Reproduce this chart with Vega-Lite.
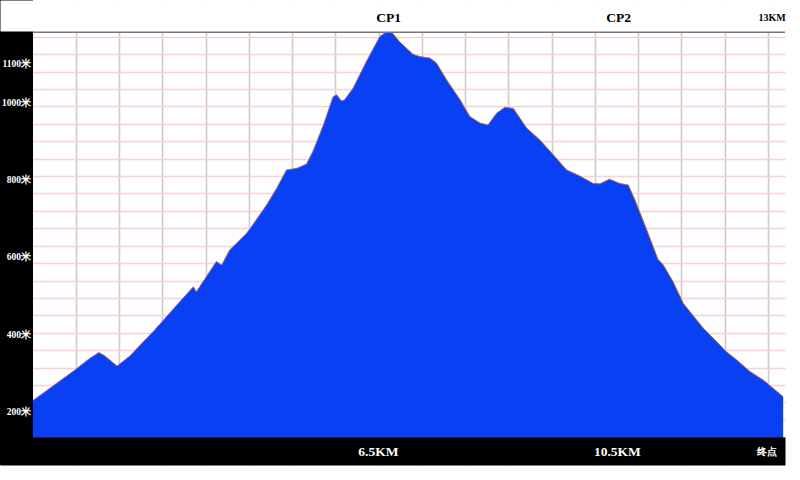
{
  "$schema": "https://vega.github.io/schema/vega-lite/v6.json",
  "width": 785,
  "height": 465,
  "autosize": {"type": "none"},
  "padding": {"left": 0, "top": 0, "right": 15, "bottom": 15},
  "background": "white",
  "config": {"view": {"stroke": null}},
  "datasets": {
    "profile": [
      {"km": 0.85, "ele": 230}, {"km": 1.51, "ele": 305}, {"km": 1.79, "ele": 339}, {"km": 1.94, "ele": 354},
      {"km": 2.04, "ele": 345}, {"km": 2.24, "ele": 319}, {"km": 2.45, "ele": 345}, {"km": 2.73, "ele": 391},
      {"km": 2.86, "ele": 412}, {"km": 3.28, "ele": 486}, {"km": 3.50, "ele": 524}, {"km": 3.55, "ele": 511},
      {"km": 3.88, "ele": 589}, {"km": 3.97, "ele": 580}, {"km": 4.10, "ele": 619}, {"km": 4.38, "ele": 662},
      {"km": 4.46, "ele": 679}, {"km": 4.71, "ele": 735}, {"km": 4.88, "ele": 779}, {"km": 5.04, "ele": 826},
      {"km": 5.21, "ele": 830}, {"km": 5.37, "ele": 841}, {"km": 5.48, "ele": 875}, {"km": 5.65, "ele": 942},
      {"km": 5.81, "ele": 1015}, {"km": 5.87, "ele": 1020}, {"km": 5.95, "ele": 1004}, {"km": 6.00, "ele": 1007},
      {"km": 6.14, "ele": 1037}, {"km": 6.36, "ele": 1106}, {"km": 6.58, "ele": 1170}, {"km": 6.69, "ele": 1183},
      {"km": 6.78, "ele": 1182}, {"km": 6.91, "ele": 1157}, {"km": 7.13, "ele": 1125}, {"km": 7.24, "ele": 1119},
      {"km": 7.41, "ele": 1115}, {"km": 7.52, "ele": 1102}, {"km": 7.69, "ele": 1058}, {"km": 7.91, "ele": 1007},
      {"km": 8.07, "ele": 964}, {"km": 8.24, "ele": 947}, {"km": 8.37, "ele": 942}, {"km": 8.51, "ele": 972},
      {"km": 8.65, "ele": 988}, {"km": 8.79, "ele": 985}, {"km": 9.01, "ele": 934}, {"km": 9.23, "ele": 903},
      {"km": 9.45, "ele": 865}, {"km": 9.67, "ele": 826}, {"km": 9.89, "ele": 810}, {"km": 10.11, "ele": 791},
      {"km": 10.22, "ele": 790}, {"km": 10.38, "ele": 802}, {"km": 10.55, "ele": 791}, {"km": 10.69, "ele": 787},
      {"km": 10.80, "ele": 748}, {"km": 10.93, "ele": 697}, {"km": 11.10, "ele": 628}, {"km": 11.18, "ele": 595},
      {"km": 11.27, "ele": 580}, {"km": 11.43, "ele": 537}, {"km": 11.60, "ele": 481}, {"km": 11.82, "ele": 438},
      {"km": 11.93, "ele": 417}, {"km": 12.15, "ele": 382}, {"km": 12.31, "ele": 356}, {"km": 12.48, "ele": 335},
      {"km": 12.70, "ele": 305}, {"km": 12.92, "ele": 283}, {"km": 13.08, "ele": 262}, {"km": 13.25, "ele": 240}
    ],
    "elevLabels": [
      {"ele": 200, "label": "200米"}, {"ele": 400, "label": "400米"}, {"ele": 600, "label": "600米"},
      {"ele": 800, "label": "800米"}, {"ele": 1000, "label": "1000米"}, {"ele": 1100, "label": "1100米"}
    ]
  },
  "data": {"name": "profile"},
  "resolve": {
    "scale": {"x": "shared", "y": "shared"},
    "axis": {"x": "independent", "y": "independent"}
  },
  "layer": [
    {
      "mark": {"type": "area", "color": "#0a40f4", "opacity": 1, "clip": true},
      "encoding": {
        "x": {
          "field": "km", "type": "quantitative",
          "scale": {"domain": [0.3045, 13.28], "nice": false, "zero": false},
          "axis": {
            "orient": "bottom", "title": null, "grid": true, "gridColor": "#cccccc", "gridWidth": 1.6, "gridOpacity": 1,
            "values": [1.558, 2.272, 2.988, 3.702, 4.417, 5.133, 5.847, 6.563, 7.277, 7.993, 8.708, 9.424, 10.138, 10.854, 11.568, 12.283, 12.997],
            "domain": false, "ticks": false, "labels": false, "zindex": 0
          }
        },
        "y": {
          "field": "ele", "type": "quantitative",
          "scale": {"domain": [63.3, 1265.1], "nice": false, "zero": false},
          "axis": {
            "orient": "left", "title": null, "grid": true, "gridColor": "#f3d3d3", "gridWidth": 1.3, "gridOpacity": 1,
            "values": [135, 180, 225, 270, 315, 360, 405, 450, 495, 540, 585, 630, 675, 720, 765, 810, 855, 900, 945, 990, 1035, 1080, 1125, 1170],
            "domain": false, "ticks": false, "labels": false, "zindex": 0
          }
        }
      }
    },
    {
      "mark": {"type": "line", "color": "#b86a4a", "strokeWidth": 1},
      "encoding": {
        "x": {
          "field": "km", "type": "quantitative",
          "axis": {
            "orient": "bottom", "title": null, "grid": false, "ticks": false, "labels": false,
            "domain": true, "domainColor": "black", "domainWidth": 28, "offset": -14, "zindex": 1
          }
        },
        "y": {"field": "ele", "type": "quantitative", "axis": null}
      }
    },
    {
      "mark": {"type": "rule", "color": "#777777", "strokeWidth": 2},
      "encoding": {
        "x": {
          "datum": 0.85, "type": "quantitative",
          "axis": {
            "orient": "top", "title": null, "grid": false, "ticks": false, "labels": false,
            "domain": true, "domainColor": "white", "domainWidth": 31, "offset": -15.5, "zindex": 1
          }
        },
        "x2": {"datum": 13.28},
        "y": {"datum": 1182.4, "type": "quantitative", "axis": null}
      }
    },
    {
      "mark": {"type": "line", "strokeOpacity": 0},
      "encoding": {
        "x": {
          "field": "km", "type": "quantitative",
          "axis": {
            "orient": "bottom", "title": null, "grid": false, "ticks": false, "tickSize": 0, "domain": false,
            "values": [6.55, 10.5, 12.98],
            "labelExpr": "datum.value < 8 ? '6.5KM' : datum.value < 12 ? '10.5KM' : '终点'",
            "offset": -14,
            "labelColor": "white", "labelFont": "Liberation Serif", "labelFontWeight": "bold",
            "labelFontSize": {"condition": {"test": "datum.value > 12", "value": 10}, "value": 13.5},
            "labelBaseline": "middle", "labelPadding": 0, "labelFlush": false, "labelOverlap": false, "zindex": 3
          }
        },
        "y": {"field": "ele", "type": "quantitative", "axis": null}
      }
    },
    {
      "mark": {"type": "rule", "color": "#777777", "strokeWidth": 2},
      "encoding": {
        "x": {
          "datum": 0.85, "type": "quantitative",
          "axis": {
            "orient": "top", "title": null, "grid": false, "ticks": false, "tickSize": 0, "domain": false,
            "values": [6.72, 10.52, 13.06],
            "labelExpr": "datum.value < 8 ? 'CP1' : datum.value < 12 ? 'CP2' : '13KM'",
            "offset": -15.5,
            "labelColor": "black", "labelFont": "Liberation Serif", "labelFontWeight": "bold",
            "labelFontSize": {"condition": {"test": "datum.value > 12", "value": 10}, "value": 13.5},
            "labelBaseline": "middle", "labelPadding": -2, "labelFlush": false, "labelOverlap": false, "zindex": 3
          }
        },
        "x2": {"datum": 13.28},
        "y": {"datum": 1182.4, "type": "quantitative", "axis": null}
      }
    },
    {
      "mark": {"type": "rect", "color": "#000000", "clip": false},
      "encoding": {
        "x": {"datum": 0.3045, "type": "quantitative", "axis": null},
        "x2": {"datum": 0.85},
        "y": {"datum": 63.3, "type": "quantitative", "axis": null},
        "y2": {"datum": 1265.1}
      }
    },
    {
      "data": {"name": "elevLabels"},
      "mark": {"type": "text", "color": "#ffffff", "font": "Liberation Serif", "fontWeight": "bold", "fontSize": 9.5, "align": "right", "baseline": "middle"},
      "encoding": {
        "x": {"datum": 0.817, "type": "quantitative", "axis": null},
        "y": {"field": "ele", "type": "quantitative", "axis": null},
        "text": {"field": "label", "type": "nominal"}
      }
    }
  ]
}
